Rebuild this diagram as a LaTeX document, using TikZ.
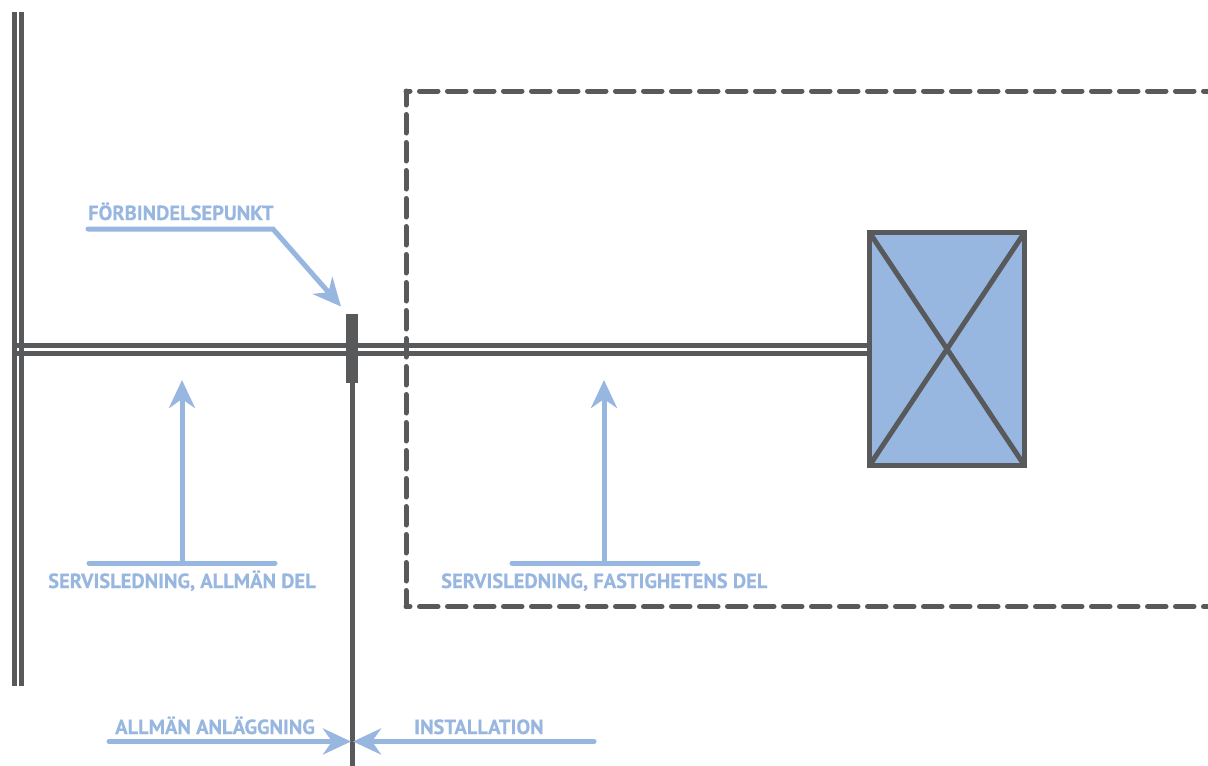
\documentclass[tikz,border=0pt]{standalone}
\usepackage{fontspec}
\setmainfont[BoldFeatures={FakeBold=0.35}]{PT Sans}
\usetikzlibrary{arrows.meta}
\definecolor{ink}{HTML}{58595B}
\definecolor{sky}{HTML}{97B6E0}
\tikzset{
  x=1pt,y=-1pt,
  inkline/.style={draw=ink,line width=5pt},
  skyline/.style={draw=sky,line width=5pt,line cap=round},
  skyarrow/.style={skyline,-{Stealth[length=28pt,width=26pt,inset=9pt,fill=sky]}},
  lbl/.style={anchor=base west,inner sep=0pt,text=sky,font=\fontsize{20.5}{24}\selectfont\bfseries},
  dashA/.style={inkline,line cap=round,dash pattern=on 18.5pt off 9.5pt,dash phase=4.5pt},
  dashB/.style={inkline,line cap=round,dash pattern=on 18.5pt off 9.5pt,dash phase=14.5pt},
}
\begin{document}
\begin{tikzpicture}
\useasboundingbox (0,0) rectangle (1208,766);
% coordinates
\coordinate (mainTopL) at (14.5,12);
\coordinate (mainBotL) at (14.5,686);
\coordinate (mainTopR) at (21.5,12);
\coordinate (mainBotR) at (21.5,686);
\coordinate (pipeAL) at (12,345.5);
\coordinate (pipeBL) at (12,353);
\coordinate (pipeAR) at (869,345.5);
\coordinate (pipeBR) at (869,353);
\coordinate (cornerTL) at (406,91);
\coordinate (cornerBL) at (406,606.5);
\coordinate (edgeT) at (1210,91);
\coordinate (edgeB) at (1210,606.5);
\coordinate (divBot) at (352,766);
\coordinate (fpStart) at (88,229);
\coordinate (fpBend) at (273,229);
\coordinate (fpTip) at (341,306.5);
\coordinate (sa1) at (89,563);
\coordinate (sa2) at (275,563);
\coordinate (saFoot) at (182,563);
\coordinate (saTip) at (182,380);
\coordinate (sb1) at (512,563);
\coordinate (sb2) at (698,563);
\coordinate (sbFoot) at (604,563);
\coordinate (sbTip) at (604,380);
\coordinate (aaStart) at (109,741.5);
\coordinate (aaTip) at (351,741.5);
\coordinate (inStart) at (594,741.5);
\coordinate (inTip) at (353,741.5);
% property boundary
\draw[dashB] (cornerTL) -- (edgeT);
\draw[dashA] (cornerTL) -- (cornerBL);
\draw[dashB] (cornerBL) -- (edgeB);
% mains and service pipe
\draw[inkline] (mainTopL) -- (mainBotL);
\draw[inkline] (mainTopR) -- (mainBotR);
\draw[inkline] (pipeAL) -- (pipeAR);
\draw[inkline] (pipeBL) -- (pipeBR);
% connection point
\node[draw=none,fill=ink,minimum width=12pt,minimum height=69pt,inner sep=0pt,outer sep=0pt] (conn) at (352,348.5) {};
\draw[draw=ink,line width=5pt] (conn.south) -- (divBot);
% unit
\node[draw=ink,fill=sky,line width=5pt,minimum width=155pt,minimum height=233pt,inner sep=0pt,outer sep=0pt] (unit) at (947,349) {};
\draw[inkline] (unit.north west) -- (unit.south east);
\draw[inkline] (unit.north east) -- (unit.south west);
% callouts
\draw[skyarrow,line join=miter] (fpStart) -- (fpBend) -- (fpTip);
\draw[skyline] (sa1) -- (sa2);
\draw[skyarrow] (saFoot) -- (saTip);
\draw[skyline] (sb1) -- (sb2);
\draw[skyarrow] (sbFoot) -- (sbTip);
\draw[skyarrow] (aaStart) -- (aaTip);
\draw[skyarrow] (inStart) -- (inTip);
% labels
\node[lbl] (t1) at (88,220) {FÖRBINDELSEPUNKT};
\node[lbl] (t2) at (48,588) {SERVISLEDNING, ALLMÄN DEL};
\node[lbl] (t3) at (441,588) {SERVISLEDNING, FASTIGHETENS DEL};
\node[lbl] (t4) at (115,734) {ALLMÄN ANLÄGGNING};
\node[lbl] (t5) at (414,734) {INSTALLATION};
\end{tikzpicture}
\end{document}
